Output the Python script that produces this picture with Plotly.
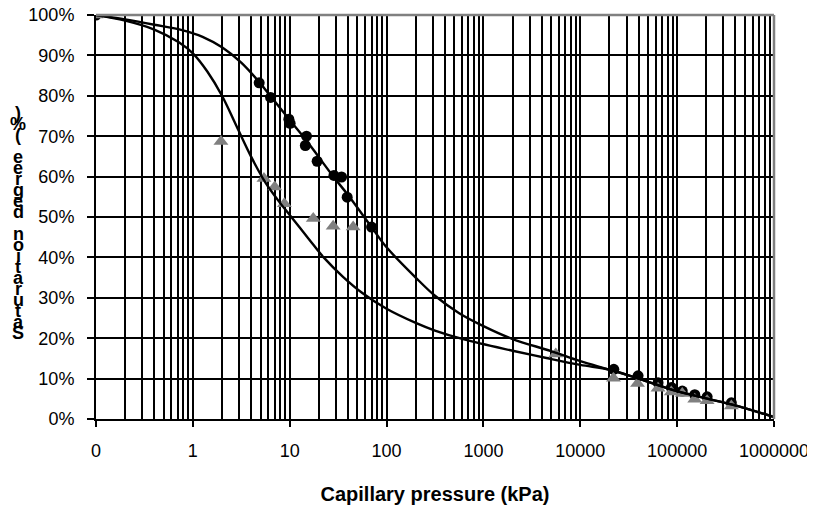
import plotly.graph_objects as go

# measured points (capillary pressure kPa, saturation %)
circle_x = [0.1, 4.84, 6.35, 9.8, 10.1, 14.9, 14.5, 19.2, 28.6, 34.3, 39.2, 70,
            22180, 39500, 63500, 87300, 113000, 152000, 204000, 363000]
circle_y = [100, 83.2, 79.6, 74.2, 73.2, 70, 67.7, 63.8, 60.3, 59.9, 54.9, 47.5,
            12.3, 10.7, 9.0, 7.8, 6.9, 6.0, 5.5, 4.0]

tri_x = [0.1, 1.95, 5.42, 7.0, 8.8, 17.5, 28.1, 45.2, 5585,
         22000, 39000, 63500, 87000, 113000, 152000, 204000, 363000]
tri_y = [100, 68.7, 59.5, 57.4, 53.3, 49.6, 47.7, 47.5, 16.1,
         10.1, 8.8, 7.6, 6.7, 6.3, 4.9, 4.5, 3.2]

# fitted curves
upper_x = [0.1, 0.2, 0.4, 0.79, 1.26, 2, 3.16, 4.8, 6.3, 10, 14.8, 20, 28.2,
           39.8, 70, 100, 200, 316, 562, 1000, 2000, 5000, 10000, 20000,
           40000, 100000, 363000, 1000000]
upper_y = [100, 98.9, 97.6, 96.2, 94.6, 92, 88.2, 83.5, 80, 74, 69, 64.8, 60,
           55.5, 47.5, 42.5, 35, 30.5, 26.2, 23, 19.8, 16.8, 14.3, 12.2,
           10, 6.9, 3.6, 0.5]

lower_x = [0.1, 0.2, 0.4, 0.71, 1, 1.41, 2, 2.82, 3.98, 5.62, 7.94, 10, 15.8,
           22.4, 35.5, 56.2, 100, 200, 316, 631, 2000, 4470, 10000, 20000,
           40000, 100000, 363000, 1000000]
lower_y = [100, 98.6, 96.4, 93.3, 90.5, 86, 80, 72.5, 65, 58.5, 53.5, 50.5, 44.5,
           40, 35.2, 31.2, 27.3, 23.8, 21.9, 19.7, 16.9, 15.1, 13.4, 12.2,
           10, 6.9, 3.6, 0.5]

x_tickvals = [0.1, 1, 10, 100, 1000, 10000, 100000, 1000000]
x_ticktext = ["0", "1", "10", "100", "1000", "10000", "100000", "1000000"]
y_tickvals = [0, 10, 20, 30, 40, 50, 60, 70, 80, 90, 100]
y_ticktext = [f"{v}%" for v in y_tickvals]

y_title = "Saturation degree (%)"

FONT = "Liberation Sans, Arial, sans-serif"

fig = go.Figure()

fig.add_trace(go.Scatter(x=circle_x, y=circle_y, mode="markers",
                         marker=dict(symbol="circle", size=11, color="black"),
                         name="drying"))
fig.add_trace(go.Scatter(x=tri_x, y=tri_y, mode="markers",
                         marker=dict(symbol="triangle-up", size=13, color="#808080"),
                         name="wetting"))
for cx, cy, nm in [(upper_x, upper_y, "fit 1"), (lower_x, lower_y, "fit 2")]:
    fig.add_trace(go.Scatter(x=cx, y=cy, mode="lines",
                             line=dict(color="black", width=2.4, shape="spline", smoothing=1.0),
                             name=nm))

minor_vals = [m * 10 ** k for k in range(-1, 6) for m in range(2, 10)]

fig.update_xaxes(type="log", range=[-1, 6], tickvals=x_tickvals, ticktext=x_ticktext,
                 showgrid=True, gridcolor="black", gridwidth=2,
                 minor=dict(tickvals=minor_vals, showgrid=True, gridcolor="black",
                            gridwidth=2, ticks=""),
                 ticks="outside", ticklen=6, tickwidth=2, tickcolor="black",
                 showline=True, linecolor="black", linewidth=2, zeroline=False,
                 automargin=False, ticklabeloverflow="allow",
                 tickfont=dict(size=18, color="black"), ticklabelstandoff=8,
                 title=dict(text="<b>Capillary pressure (kPa)</b>", font=dict(size=20, color="black"),
                            standoff=27))
fig.update_yaxes(range=[0, 100], tickvals=y_tickvals, ticktext=y_ticktext,
                 showgrid=True, gridcolor="black", gridwidth=2,
                 ticks="outside", ticklen=7, tickwidth=2, tickcolor="black",
                 showline=True, linecolor="black", linewidth=2, zeroline=False,
                 automargin=False, ticklabeloverflow="allow",
                 tickfont=dict(size=18, color="black"), ticklabelstandoff=9)

# grey border on top and right
fig.add_shape(type="line", xref="paper", yref="paper", x0=0, x1=1, y0=1, y1=1,
              line=dict(color="#808080", width=2.5))
fig.add_shape(type="line", xref="paper", yref="paper", x0=1, x1=1, y0=0, y1=1,
              line=dict(color="#808080", width=2.5))

# y title: letters stacked bottom to top, as in the original
chars = list(y_title)
top_px, bottom_px = 105, 325          # in figure pixels
plot_top, plot_h = 7, 404
step = (bottom_px - top_px) / (len(chars) - 1)
for i, ch in enumerate(chars):
    if ch == " ":
        continue
    ypx = bottom_px - i * step
    fig.add_annotation(text=f"<b>{ch}</b>", xref="paper", yref="paper",
                       x=-0.115, y=1 - (ypx - plot_top) / plot_h,
                       showarrow=False, xanchor="center", yanchor="middle",
                       font=dict(size=18, color="black", family=FONT))

# page body adds ~8px offset, so the figure is 8px smaller than the window
fig.update_layout(width=807, height=499, margin=dict(l=88, r=41, t=7, b=88),
                  plot_bgcolor="white", paper_bgcolor="white", showlegend=False,
                  font=dict(family=FONT, color="black"))

fig.write_html("out.html")
